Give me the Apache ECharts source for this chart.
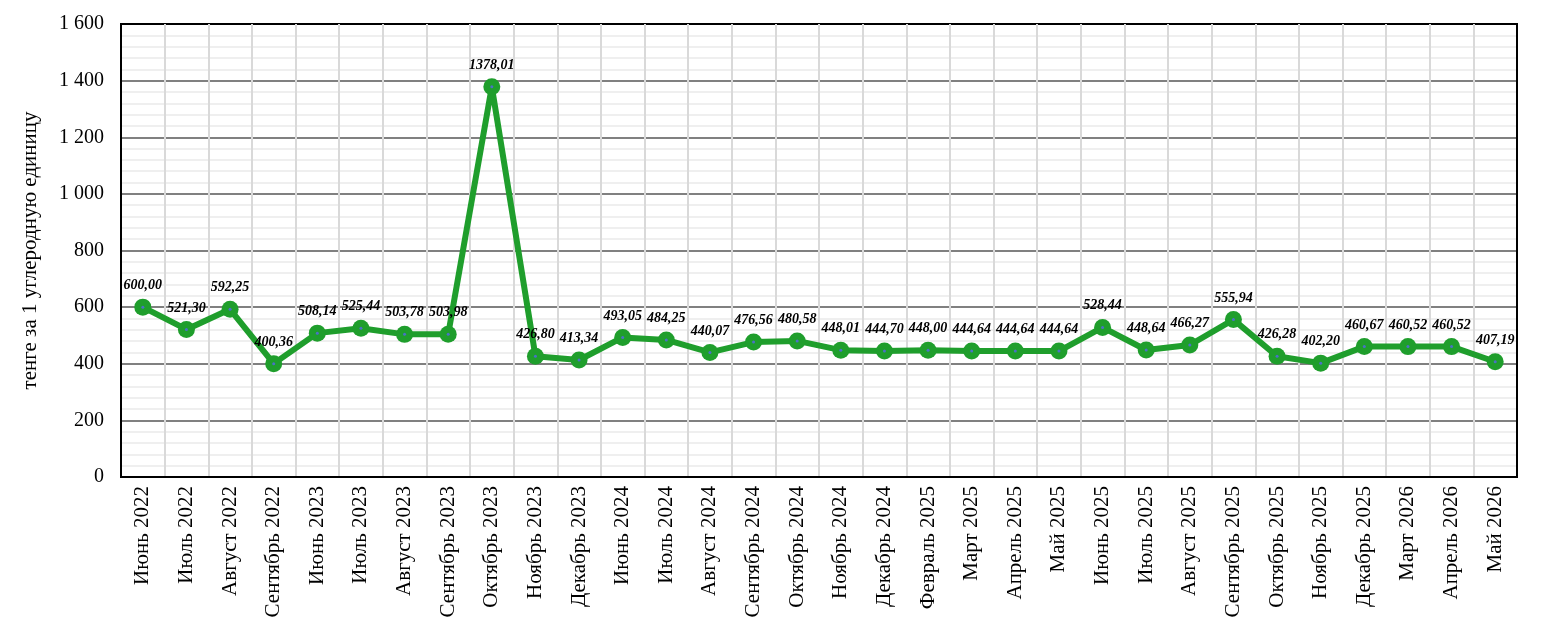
<!DOCTYPE html>
<html>
<head>
<meta charset="utf-8">
<script src="https://cdn.jsdelivr.net/npm/echarts@6/dist/echarts.min.js"></script>
<style>
  html, body { margin: 0; padding: 0; background: #fff; }
  #main { width: 1541px; height: 634px; }
</style>
</head>
<body>
<div id="main"></div>
<script>
var months = ['Июнь 2022', 'Июль 2022', 'Август 2022', 'Сентябрь 2022', 'Июнь 2023', 'Июль 2023',
  'Август 2023', 'Сентябрь 2023', 'Октябрь 2023', 'Ноябрь 2023', 'Декабрь 2023', 'Июнь 2024',
  'Июль 2024', 'Август 2024', 'Сентябрь 2024', 'Октябрь 2024', 'Ноябрь 2024', 'Декабрь 2024',
  'Февраль 2025', 'Март 2025', 'Апрель 2025', 'Май 2025', 'Июнь 2025', 'Июль 2025', 'Август 2025',
  'Сентябрь 2025', 'Октябрь 2025', 'Ноябрь 2025', 'Декабрь 2025', 'Март 2026', 'Апрель 2026', 'Май 2026'];
var prices = [600.00, 521.30, 592.25, 400.36, 508.14, 525.44, 503.78, 503.98, 1378.01, 426.80, 413.34,
  493.05, 484.25, 440.07, 476.56, 480.58, 448.01, 444.70, 448.00, 444.64, 444.64, 444.64, 528.44,
  448.64, 466.27, 555.94, 426.28, 402.20, 460.67, 460.52, 460.52, 407.19];
var yMin = 0, yMax = 1600, yStep = 200;
var yTitle = 'тенге за 1 углеродную единицу';

var font = '"Liberation Serif", "Times New Roman", serif';

function fmtAxis(v) {
  var s = String(v);
  return s.length > 3 ? s.slice(0, s.length - 3) + ' ' + s.slice(-3) : s;
}
function fmtLabel(v) {
  return v.toFixed(2).replace('.', ',');
}

var chart = echarts.init(document.getElementById('main'), null, { renderer: 'canvas' });
chart.setOption({
  animation: false,
  backgroundColor: '#fff',
  grid: {
    left: 121, right: 24, top: 24, bottom: 157,
    show: true, borderColor: '#000', borderWidth: 2, backgroundColor: 'transparent'
  },
  xAxis: {
    type: 'category',
    data: months,
    boundaryGap: true,
    axisLine: { lineStyle: { color: '#000', width: 2 } },
    axisTick: { show: false },
    splitLine: {
      show: true, showMinLine: false, showMaxLine: false,
      lineStyle: { color: '#d9d9d9', width: 2 }
    },
    axisLabel: {
      rotate: 90, interval: 0, margin: 9,
      color: '#000', fontFamily: font, fontSize: 21
    }
  },
  yAxis: [
    {
      type: 'value',
      min: yMin, max: yMax, interval: yStep,
      name: yTitle,
      nameLocation: 'middle',
      nameGap: 80,
      nameTextStyle: { color: '#000', fontFamily: font, fontSize: 21 },
      axisLine: { show: true, lineStyle: { color: '#000', width: 2 } },
      axisTick: { show: false },
      axisLabel: { color: '#000', fontFamily: font, fontSize: 20, margin: 17, formatter: fmtAxis },
      splitLine: {
        show: true, showMinLine: false, showMaxLine: false,
        lineStyle: { color: '#808080', width: 2 }
      },
      minorTick: { show: false, splitNumber: 5 },
      minorSplitLine: { show: true, lineStyle: { color: '#efefef', width: 2 } }
    },
    {
      // right frame edge, drawn above the minor grid
      type: 'value', position: 'right',
      min: yMin, max: yMax, interval: yStep,
      axisLine: { show: true, lineStyle: { color: '#000', width: 2 } },
      axisTick: { show: false },
      axisLabel: { show: false },
      splitLine: { show: false }
    }
  ],
  series: [
    {
      type: 'line',
      data: prices,
      symbol: 'circle',
      symbolSize: 17,
      lineStyle: { color: '#1f9e2c', width: 6 },
      itemStyle: { color: '#1f9e2c' },
      label: {
        show: true, position: 'top', distance: 6,
        color: '#000', fontFamily: font, fontSize: 14,
        fontWeight: 'bold', fontStyle: 'italic',
        formatter: function (p) { return fmtLabel(p.value); }
      },
      z: 3
    },
    {
      type: 'line',
      data: prices,
      symbol: 'circle',
      symbolSize: 3,
      lineStyle: { width: 0 },
      itemStyle: { color: '#4a72c4' },
      silent: true,
      z: 4
    }
  ]
});
</script>
</body>
</html>
